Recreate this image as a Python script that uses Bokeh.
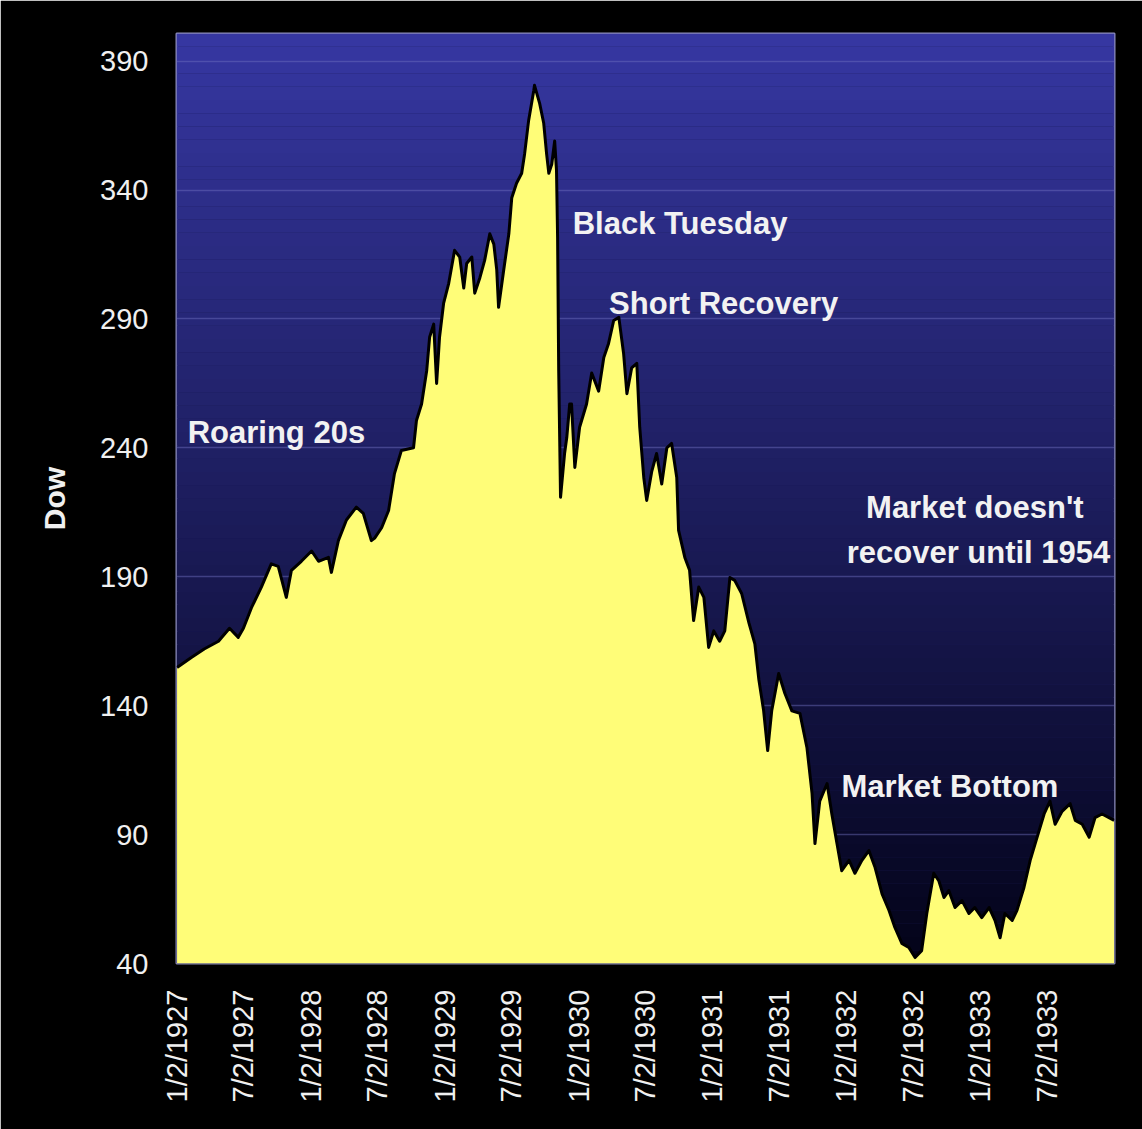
import numpy as np
import pandas as pd
from bokeh.plotting import figure
from bokeh.models import Range1d, FixedTicker, CustomJSTickFormatter, ColumnDataSource
from bokeh.core.properties import value
from bokeh.embed import file_html
from bokeh.resources import INLINE

# ---- data (Dow Jones Industrial Average, 1927-1933) ----
dates = [
    "1927-01-03", "1927-02-11", "1927-03-18", "1927-04-26", "1927-05-26", "1927-06-19",
    "1927-07-03", "1927-07-25", "1927-08-21", "1927-09-17", "1927-10-06", "1927-10-28",
    "1927-11-11", "1927-12-08", "1928-01-05", "1928-01-24", "1928-02-20", "1928-02-28",
    "1928-03-18", "1928-04-09", "1928-05-06", "1928-05-25", "1928-06-16", "1928-06-25",
    "1928-07-14", "1928-08-02", "1928-08-18", "1928-09-06", "1928-10-09", "1928-10-17",
    "1928-10-31", "1928-11-14", "1928-11-22", "1928-12-03", "1928-12-11", "1928-12-19",
    "1928-12-30", "1929-01-13", "1929-01-29", "1929-02-12", "1929-02-23", "1929-03-03",
    "1929-03-17", "1929-03-25", "1929-04-08", "1929-04-21", "1929-05-05", "1929-05-16",
    "1929-05-24", "1929-05-29", "1929-06-12", "1929-06-26", "1929-07-04", "1929-07-17",
    "1929-07-31", "1929-08-08", "1929-08-19", "1929-09-02", "1929-09-04", "1929-09-18",
    "1929-09-29", "1929-10-07", "1929-10-13", "1929-10-21", "1929-10-29", "1929-11-03",
    "1929-11-06", "1929-11-09", "1929-11-14", "1929-11-25", "1929-12-01", "1929-12-09",
    "1929-12-14", "1929-12-23", "1930-01-05", "1930-01-24", "1930-02-07", "1930-02-26",
    "1930-03-12", "1930-03-25", "1930-04-08", "1930-04-22", "1930-05-05", "1930-05-14",
    "1930-05-27", "1930-06-10", "1930-06-18", "1930-06-29", "1930-07-07", "1930-07-21",
    "1930-08-03", "1930-08-17", "1930-08-31", "1930-09-13", "1930-09-27", "1930-10-02",
    "1930-10-19", "1930-11-01", "1930-11-12", "1930-11-26", "1930-12-10", "1930-12-23",
    "1931-01-06", "1931-01-22", "1931-02-05", "1931-02-19", "1931-03-04", "1931-03-23",
    "1931-04-12", "1931-04-28", "1931-05-09", "1931-05-22", "1931-06-02", "1931-06-13",
    "1931-07-02", "1931-07-19", "1931-08-07", "1931-08-29", "1931-09-17", "1931-10-01",
    "1931-10-09", "1931-10-22", "1931-11-11", "1931-11-24", "1931-12-08", "1931-12-21",
    "1932-01-10", "1932-01-26", "1932-02-14", "1932-03-04", "1932-03-21", "1932-04-09",
    "1932-04-28", "1932-05-14", "1932-06-02", "1932-06-21", "1932-07-08", "1932-07-26",
    "1932-08-09", "1932-08-28", "1932-09-11", "1932-09-25", "1932-10-08", "1932-10-25",
    "1932-11-13", "1932-12-02", "1932-12-18", "1933-01-06", "1933-01-26", "1933-02-11",
    "1933-02-25", "1933-03-10", "1933-03-30", "1933-04-12", "1933-05-01", "1933-05-18",
    "1933-06-06", "1933-06-25", "1933-07-11", "1933-07-25", "1933-08-13", "1933-09-04",
    "1933-09-18", "1933-10-07", "1933-10-26", "1933-11-11", "1933-11-30", "1933-12-19",
    "1934-01-02",
]
dow = [
    154.8, 158.7, 162.0, 165.0, 170.0, 166.5,
    170.0, 178.0, 186.0, 195.0, 194.0, 182.0,
    192.5, 196.0, 200.0, 196.0, 197.5, 191.7,
    204.0, 212.0, 217.0, 214.6, 204.0, 205.0,
    209.0, 215.7, 230.0, 239.0, 240.0, 250.6,
    257.0, 270.0, 283.0, 288.0, 265.0, 283.0,
    296.0, 303.8, 316.6, 314.0, 302.0, 311.5,
    314.0, 300.0, 306.0, 312.7, 323.0, 319.0,
    309.0, 294.5, 309.0, 323.0, 337.0, 342.6,
    346.5, 354.0, 367.0, 378.6, 380.6, 373.6,
    366.0, 354.0, 346.5, 350.0, 359.0, 347.6,
    321.6, 270.0, 220.8, 237.8, 244.0, 257.0,
    257.0, 232.4, 248.0, 257.0, 269.0, 262.0,
    275.0, 280.5, 289.4, 290.6, 276.6, 261.0,
    271.0, 272.8, 248.0, 228.5, 219.6, 231.0,
    237.8, 226.0, 240.0, 241.7, 228.5, 208.0,
    197.5, 192.5, 173.0, 186.0, 182.0, 162.6,
    169.0, 165.0, 169.0, 189.7, 188.6, 183.5,
    172.0, 164.0, 150.0, 138.0, 122.6, 138.0,
    152.5, 144.7, 138.0, 137.0, 123.8, 106.0,
    86.5, 103.0, 109.8, 98.0, 86.5, 76.0,
    80.0, 75.0, 80.0, 83.8, 77.2, 67.0,
    60.6, 54.0, 47.8, 46.2, 42.3, 45.0,
    59.4, 75.0, 72.0, 65.6, 68.3, 61.7,
    64.4, 59.4, 61.7, 57.8, 61.7, 56.7,
    50.0, 59.4, 56.7, 60.6, 69.5, 80.0,
    89.0, 98.0, 103.0, 94.0, 99.0, 102.0,
    95.5, 94.0, 89.0, 96.6, 98.0, 96.6,
    95.5,
]
x_tick_dates = [
    "1927-01-02", "1927-07-02", "1928-01-02", "1928-07-02", "1929-01-02", "1929-07-02",
    "1930-01-02", "1930-07-02", "1931-01-02", "1931-07-02", "1932-01-02", "1932-07-02",
    "1933-01-02", "1933-07-02",
]
y_ticks = [40, 90, 140, 190, 240, 290, 340, 390]

note_texts = ["Roaring 20s", "Black Tuesday", "Short Recovery",
              "Market doesn't", "recover until 1954", "Market Bottom"]
note_dates = ["1927-10-01", "1930-10-06", "1931-02-02",
              "1932-12-18", "1932-12-28", "1932-10-11"]
note_y = [246.0, 327.0, 296.0, 216.9, 199.4, 108.7]

# ---- figure ----
x_start = pd.Timestamp("1927-01-01 12:00")
x_end = pd.Timestamp("1934-01-03")
y_start, y_end = 40, 400.7

p = figure(width=1142, height=1129, x_axis_type="datetime",
           x_range=Range1d(x_start, x_end), y_range=Range1d(y_start, y_end),
           output_backend="svg", toolbar_location=None,
           min_border_left=176, min_border_right=28, min_border_top=33, min_border_bottom=166)

p.background_fill_color = "#1a1a55"
p.border_fill_color = "#000000"
p.outline_line_color = "#8c8cbc"
p.outline_line_width = 2

# vertical gradient of the plot background (blue at top, navy at bottom)
n_bands = 70
edges = np.linspace(y_start, y_end, n_bands + 1)
frac = (edges[:-1] + edges[1:]) / 2
frac = (frac - y_start) / (y_end - y_start)
c_top = np.array([54, 55, 162])
c_bot = np.array([3, 3, 24])
band_colors = ["#%02x%02x%02x" % tuple(int(round(v)) for v in (c_bot + (c_top - c_bot) * f)) for f in frac]
bands = p.quad(left=[x_start] * n_bands, right=[x_end] * n_bands,
               bottom=edges[:-1], top=edges[1:], fill_color=band_colors, line_color=None)
bands.level = "image"

src = ColumnDataSource(dict(date=pd.to_datetime(dates), dow=dow))
p.varea(x="date", y1=y_start, y2="dow", source=src, fill_color="#fffd78")
p.line(x="date", y="dow", source=src, line_color="#000000", line_width=3, line_join="round")

notes = ColumnDataSource(dict(x=pd.to_datetime(note_dates), y=note_y, text=note_texts))
p.text(x="x", y="y", text="text", source=notes, text_font=value("Liberation Sans"),
       text_font_style="bold", text_font_size="31px", text_color="#f2f2f2",
       text_align="center", text_baseline="alphabetic")

# grid
p.xgrid.visible = False
p.ygrid.ticker = FixedTicker(ticks=y_ticks)
p.ygrid.grid_line_color = "#7070c0"
p.ygrid.grid_line_alpha = 0.45
p.ygrid.grid_line_width = 1.5

# axes
tick_ms = [pd.Timestamp(d).value // 10**6 for d in x_tick_dates]
p.xaxis.ticker = FixedTicker(ticks=tick_ms)
p.xaxis.formatter = CustomJSTickFormatter(code="""
const d = new Date(tick);
return (d.getUTCMonth() + 1) + "/" + d.getUTCDate() + "/" + d.getUTCFullYear();
""")
p.xaxis.major_label_orientation = np.pi / 2
p.yaxis.ticker = FixedTicker(ticks=y_ticks)
p.yaxis.axis_label = "Dow"

for ax in (p.xaxis[0], p.yaxis[0]):
    ax.axis_line_color = None
    ax.major_tick_line_color = None
    ax.minor_tick_line_color = None
    ax.major_tick_out = 0
    ax.major_tick_in = 0
    ax.major_label_text_color = "#f0f0f0"
    ax.major_label_text_font = "Liberation Sans"
    ax.major_label_text_font_size = "29px"
    ax.major_label_standoff = 26

p.yaxis.major_label_standoff = 28
p.yaxis.axis_label_text_color = "#f0f0f0"
p.yaxis.axis_label_text_font = "Liberation Sans"
p.yaxis.axis_label_text_font_style = "bold"
p.yaxis.axis_label_text_font_size = "30px"
p.yaxis.axis_label_standoff = 26

open("out.html", "w").write(file_html(p, INLINE))
